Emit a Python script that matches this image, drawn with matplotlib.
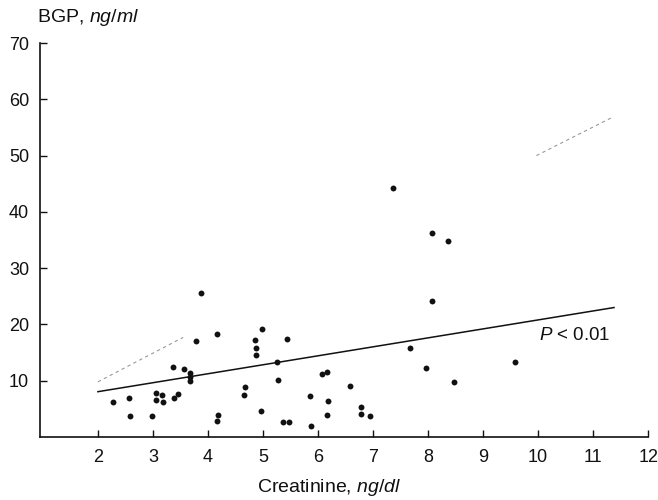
import matplotlib
matplotlib.use("Agg")
import matplotlib.pyplot as plt

plt.rcParams['font.family'] = ['Liberation Sans', 'DejaVu Sans']
plt.rcParams['mathtext.fontset'] = 'custom'
plt.rcParams['mathtext.rm'] = 'Liberation Sans'
plt.rcParams['mathtext.it'] = 'Liberation Sans:italic'

# Data (creatinine ng/dl, BGP ng/ml)
creatinine = [2.28, 2.57, 2.59, 2.99, 3.06, 3.05, 3.17, 3.19, 3.37, 3.38, 3.46,
              3.57, 3.68, 3.68, 3.67, 3.78, 3.88, 4.17, 4.18, 4.17, 4.67, 4.66,
              4.86, 4.87, 4.88, 4.98, 4.97, 5.25, 5.27, 5.36, 5.48, 5.44, 5.86,
              5.87, 6.07, 6.17, 6.18, 6.17, 6.59, 6.79, 6.78, 6.95, 7.37, 7.67,
              7.97, 8.07, 8.08, 8.37, 8.47, 9.58]
bgp = [6.3, 6.9, 3.7, 3.7, 7.8, 6.6, 7.5, 6.2, 12.5, 6.9, 7.7,
       12.0, 11.3, 10.7, 9.9, 17.1, 25.6, 18.3, 3.9, 2.9, 8.8, 7.5,
       17.2, 15.9, 14.6, 19.2, 4.7, 13.3, 10.2, 2.7, 2.7, 17.4, 7.2,
       1.9, 11.2, 11.6, 6.4, 3.9, 9.0, 5.3, 4.1, 3.7, 44.2, 15.9,
       12.3, 24.2, 36.2, 34.9, 9.7, 13.3]

# Regression line
reg_x = [2.0, 11.38]
reg_y = [8.05, 23.0]

# Upper confidence line (visible fragments)
conf_x1 = [2.0, 3.55]
conf_y1 = [9.8, 17.7]
conf_x2 = [9.97, 11.35]
conf_y2 = [50.0, 56.8]

x_ticks = [2, 3, 4, 5, 6, 7, 8, 9, 10, 11, 12]
y_ticks = [10, 20, 30, 40, 50, 60, 70]

fig = plt.figure(figsize=(6.58, 5.0), dpi=100)
ax = fig.add_axes([0.061, 0.126, 0.924, 0.788])

ax.plot(conf_x1, conf_y1, color='#999999', lw=0.8, ls=(0, (3, 3)))
ax.plot(conf_x2, conf_y2, color='#999999', lw=0.8, ls=(0, (3, 3)))
ax.plot(reg_x, reg_y, color='#111111', lw=1.1)
ax.scatter(creatinine, bgp, s=18, color='#111111', zorder=3, linewidths=0)

ax.set_xlim(0.95, 12.0)
ax.set_ylim(0, 70)
ax.set_xticks(x_ticks)
ax.set_yticks(y_ticks)
for s in ['top', 'right']:
    ax.spines[s].set_visible(False)
for s in ['left', 'bottom']:
    ax.spines[s].set_linewidth(1.2)
    ax.spines[s].set_color('#111111')
ax.tick_params(direction='in', length=5, width=1.0, labelsize=13,
               colors='#111111', pad=8)
ax.tick_params(axis='x', pad=9)

fig.text(0.056, 0.964, r'BGP, $\it{ng/ml}$', fontsize=14, color='#111111',
         va='center', ha='left')
fig.text(0.5, 0.026, r'Creatinine, $\it{ng/dl}$', fontsize=14,
         color='#111111', va='center', ha='center')
ax.text(10.02, 18.1, r'$\it{P}$ < 0.01', fontsize=13.5, color='#111111',
        va='center', ha='left')

fig.savefig('out.png', dpi=100)
